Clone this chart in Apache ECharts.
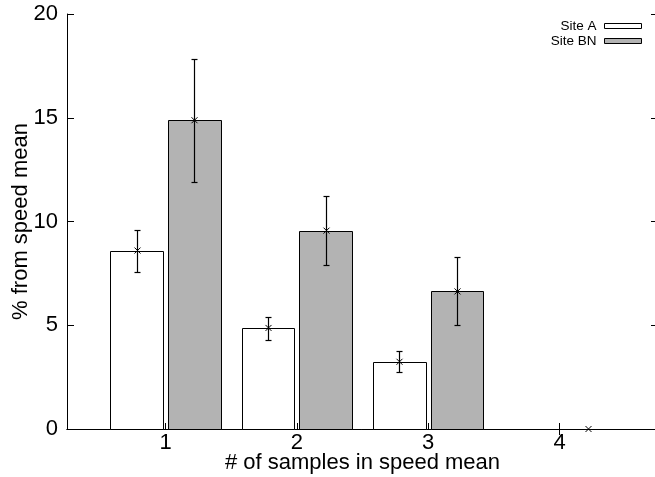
<!DOCTYPE html>
<html>
<head>
<meta charset="utf-8">
<script src="https://cdn.jsdelivr.net/npm/echarts@6/dist/echarts.min.js"></script>
<style>
html,body{margin:0;padding:0;background:#fff;}
#chart{width:655px;height:477px;}
</style>
</head>
<body>
<div id="chart"></div>
<script>
// ---- data ----
const categories = [1, 2, 3, 4];
const siteA = [8.6, 4.87, 3.24, null];
const siteALow = [7.58, 4.3, 2.73, null];
const siteAHigh = [9.59, 5.4, 3.74, null];
const siteBN = [14.88, 9.56, 6.63, 0];
const siteBNLow = [11.9, 7.9, 5.01, 0];
const siteBNHigh = [17.83, 11.23, 8.27, 0];
const yTickValues = [0, 5, 10, 15, 20];
const xTickValues = [1, 2, 3, 4];
const seriesNames = ['Site A', 'Site BN'];
const xTitle = '# of samples in speed mean';
const yTitle = '% from speed mean';

// ---- layout / style constants ----
const BOX_W = 0.4;
const OFFSET = 0.22;
const FONT = "'Liberation Sans', Arial, sans-serif";

const chart = echarts.init(document.getElementById('chart'), null, {renderer: 'canvas'});

function barRender(offset, fill) {
  return function (params, api) {
    const v = api.value(1);
    if (v === null || v === undefined || isNaN(v)) return null;
    const x = api.value(0) + offset;
    const p0 = api.coord([x - BOX_W / 2, v]);
    const p1 = api.coord([x + BOX_W / 2, 0]);
    const x0 = Math.round(p0[0]) + 0.5, x1 = Math.round(p1[0]) + 0.5;
    const y0 = Math.round(p0[1]) + 0.5, y1 = Math.round(p1[1]) + 0.5;
    return {
      type: 'rect',
      shape: {x: x0, y: y0, width: x1 - x0, height: y1 - y0},
      style: {fill: fill, stroke: '#000', lineWidth: 1}
    };
  };
}

function errRender(offset) {
  return function (params, api) {
    const mv = api.value(3);
    if (mv === null || mv === undefined || isNaN(mv)) return null;
    const x = api.value(0) + offset;
    const lo = api.coord([x, api.value(1)]);
    const hi = api.coord([x, api.value(2)]);
    const m = api.coord([x, mv]);
    const cx = Math.round(lo[0]) + 0.5;
    const cap = 3, mk = 3;
    const children = [];
    if (api.value(2) - api.value(1) > 0) {
      children.push(
        {type: 'line', shape: {x1: cx, y1: Math.round(lo[1]) + 0.5, x2: cx, y2: Math.round(hi[1]) + 0.5}, style: {stroke: '#000', lineWidth: 1.2}},
        {type: 'line', shape: {x1: cx - cap, y1: Math.round(lo[1]) + 0.5, x2: cx + cap, y2: Math.round(lo[1]) + 0.5}, style: {stroke: '#000', lineWidth: 1.2}},
        {type: 'line', shape: {x1: cx - cap, y1: Math.round(hi[1]) + 0.5, x2: cx + cap, y2: Math.round(hi[1]) + 0.5}, style: {stroke: '#000', lineWidth: 1.2}}
      );
    }
    children.push(
      {type: 'line', shape: {x1: cx - mk, y1: m[1] - mk, x2: cx + mk, y2: m[1] + mk}, style: {stroke: '#000', lineWidth: 1}},
      {type: 'line', shape: {x1: cx - mk, y1: m[1] + mk, x2: cx + mk, y2: m[1] - mk}, style: {stroke: '#000', lineWidth: 1}}
    );
    return {type: 'group', children: children};
  };
}

const barDataA = categories.map((c, i) => [c, siteA[i]]);
const barDataBN = categories.map((c, i) => [c, siteBN[i]]);
const errDataA = categories.map((c, i) => [c, siteALow[i], siteAHigh[i], siteA[i]]);
const errDataBN = categories.map((c, i) => [c, siteBNLow[i], siteBNHigh[i], siteBN[i]]);

const option = {
  animation: false,
  backgroundColor: '#fff',
  textStyle: {fontFamily: FONT},
  grid: {left: 67, top: 14, width: 591, height: 415, containLabel: false, outerBoundsMode: 'none'},
  legend: {
    orient: 'vertical',
    right: 13,
    top: 19,
    padding: 0,
    align: 'right',
    itemWidth: 37,
    itemHeight: 5,
    itemGap: 1,
    selectedMode: false,
    textStyle: {fontSize: 13.5, color: '#000', fontFamily: FONT, lineHeight: 12, padding: [0, 3, 0, 0]},
    data: [
      {name: seriesNames[0], icon: 'rect', itemStyle: {color: '#fff', borderColor: '#000', borderWidth: 1}},
      {name: seriesNames[1], icon: 'rect', itemStyle: {color: '#b3b3b3', borderColor: '#000', borderWidth: 1}}
    ]
  },
  xAxis: [
    {
      type: 'value', min: 0.25, max: 4.75, position: 'bottom',
      name: xTitle, nameLocation: 'middle', nameGap: 23, nameMoveOverlap: false,
      nameTextStyle: {fontSize: 22, color: '#000', fontFamily: FONT},
      splitLine: {show: false},
      axisLine: {show: true, lineStyle: {color: '#000', width: 1}},
      axisTick: {show: true, inside: true, length: 6, customValues: xTickValues, lineStyle: {color: '#000'}},
      axisLabel: {show: true, customValues: xTickValues, fontSize: 22, color: '#000', margin: 3, fontFamily: FONT}
    },
    {
      type: 'value', min: 0.25, max: 4.75, position: 'top',
      splitLine: {show: false},
      axisLine: {show: true, lineStyle: {color: '#000', width: 1}},
      axisTick: {show: true, inside: true, length: 6, customValues: [xTickValues[3]], lineStyle: {color: '#000'}},
      axisLabel: {show: false}
    }
  ],
  yAxis: [
    {
      type: 'value', min: 0, max: 20, interval: 5, position: 'left',
      name: yTitle, nameLocation: 'middle', nameGap: 35, nameMoveOverlap: false,
      nameTextStyle: {fontSize: 22, color: '#000', fontFamily: FONT},
      splitLine: {show: false},
      axisLine: {show: true, lineStyle: {color: '#000', width: 1}},
      axisTick: {show: true, inside: true, length: 7, customValues: yTickValues, lineStyle: {color: '#000'}},
      axisLabel: {show: true, customValues: yTickValues, fontSize: 22, color: '#000', margin: 9, fontFamily: FONT}
    },
    {
      type: 'value', min: 0, max: 20, interval: 5, position: 'right',
      splitLine: {show: false},
      axisLine: {show: true, lineStyle: {color: '#000', width: 1}},
      axisTick: {show: true, inside: true, length: 7, lineStyle: {color: '#000'}},
      axisLabel: {show: false}
    }
  ],
  series: [
    {
      name: seriesNames[0], type: 'custom', renderItem: barRender(-OFFSET, '#ffffff'),
      data: barDataA, encode: {x: 0, y: 1}, z: 2,
      itemStyle: {color: '#fff', borderColor: '#000', borderWidth: 1}
    },
    {
      name: seriesNames[1], type: 'custom', renderItem: barRender(OFFSET, '#b3b3b3'),
      data: barDataBN, encode: {x: 0, y: 1}, z: 2,
      itemStyle: {color: '#b3b3b3', borderColor: '#000', borderWidth: 1}
    },
    {
      name: 'errA', type: 'custom', renderItem: errRender(-OFFSET),
      data: errDataA, encode: {x: 0, y: [1, 2]}, z: 3, silent: true
    },
    {
      name: 'errBN', type: 'custom', renderItem: errRender(OFFSET),
      data: errDataBN, encode: {x: 0, y: [1, 2]}, z: 3, silent: true
    }
  ]
};
chart.setOption(option);
</script>
</body>
</html>
